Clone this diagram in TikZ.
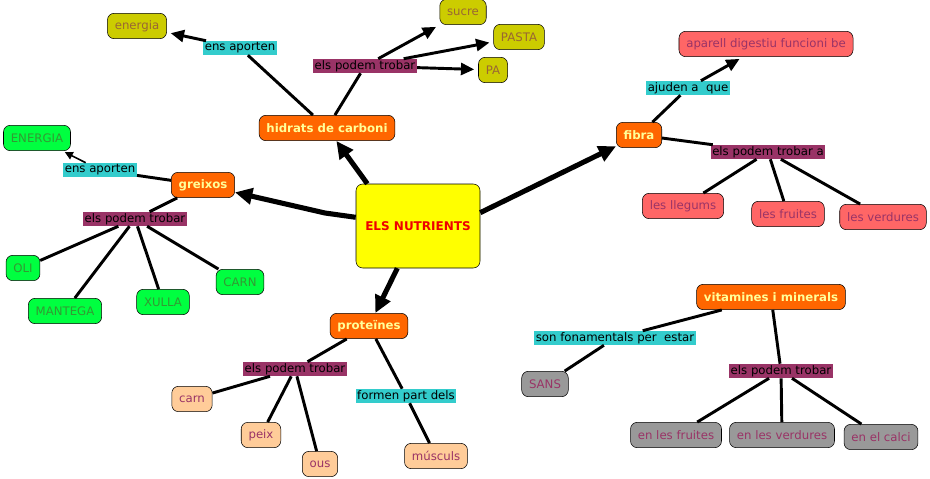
\documentclass[tikz,border=0pt]{standalone}
\usepackage{fontspec}
\setmainfont{DejaVu Sans}
\usetikzlibrary{arrows.meta}
\definecolor{mapyellow}{HTML}{FFFF00}
\definecolor{maporange}{HTML}{FF6600}
\definecolor{mapolive}{HTML}{CCCC00}
\definecolor{mapcyan}{HTML}{33CCCC}
\definecolor{mapplum}{HTML}{993366}
\definecolor{mappink}{HTML}{FF6666}
\definecolor{mapgreen}{HTML}{00FF40}
\definecolor{mappeach}{HTML}{FFCC99}
\definecolor{mapgrey}{HTML}{999999}
\definecolor{txtbrown}{HTML}{996633}
\definecolor{txtgreen}{HTML}{339933}
\definecolor{txtcream}{HTML}{FFFF99}
\definecolor{txtred}{HTML}{EE0000}

\begin{document}
\begin{tikzpicture}[x=0.75pt, y=-0.75pt,
  concept/.style={draw, rounded corners=5pt, minimum height=19pt, inner xsep=5.5pt,
                  font=\fontsize{8.8}{10}\selectfont},
  topic/.style={concept, fill=maporange, text=txtcream, font=\fontsize{8.8}{10}\selectfont\bfseries},
  olivebox/.style={concept, fill=mapolive, text=txtbrown},
  pinkbox/.style={concept, fill=mappink, text=mapplum},
  greenbox/.style={concept, fill=mapgreen, text=txtgreen},
  peachbox/.style={concept, fill=mappeach, text=mapplum},
  greybox/.style={concept, fill=mapgrey, text=mapplum},
  lnk/.style={inner xsep=1.2pt, inner ysep=1pt, minimum height=10.5pt, font=\fontsize{8.8}{10}\selectfont},
  cyanlnk/.style={lnk, fill=mapcyan},
  plumlnk/.style={lnk, fill=mapplum},
  main/.style={line width=3.8pt, -{Triangle[length=13pt,width=12pt]}},
  arr/.style={line width=2.2pt, -{Triangle[length=10pt,width=9pt]}, shorten >=3pt},
  tinyarr/.style={line width=1.2pt, -{Triangle[length=6pt,width=6pt]}, shorten >=2pt},
  conn/.style={line width=2.2pt},
]
\useasboundingbox (0,0) rectangle (930,478);

% --- centre ---
\node[draw, rounded corners=5pt, fill=mapyellow, minimum width=93pt, minimum height=63pt,
      text=txtred, font=\fontsize{9}{10}\selectfont\bfseries] (nutri) at (418,226) {ELS NUTRIENTS};

% --- hidrats de carboni ---
\node[topic] (hidr) at (327,128) {hidrats de carboni};
\node[cyanlnk] (hens) at (240,48) {ens aporten};
\node[olivebox] (henerg) at (137,26) {energia};
\node[plumlnk] (hpod) at (365,66) {els podem trobar};
\node[olivebox] (sucre) at (463,12) {sucre};
\node[olivebox] (pasta) at (519,37) {PASTA};
\node[olivebox] (pa) at (493,70) {PA};

% --- fibra ---
\node[topic] (fibra) at (639,135) {fibra};
\node[cyanlnk] (fajud) at (688,88) {ajuden a~ que};
\node[pinkbox] (aparell) at (766,44) {aparell digestiu funcioni be};
\node[plumlnk] (fpod) at (768,152) {els podem trobar a};
\node[pinkbox] (llegums) at (683,206) {les llegums};
\node[pinkbox] (ffruit) at (788,214) {les fruites};
\node[pinkbox] (fverd) at (883,217) {les verdures};

% --- greixos ---
\node[topic] (greix) at (203,185) {greixos};
\node[cyanlnk] (gens) at (100,170) {ens aporten};
\node[greenbox] (generg) at (37,138) {ENERGIA};
\node[plumlnk] (gpod) at (135,219) {els podem trobar};
\node[greenbox] (oli) at (23,268) {OLI};
\node[greenbox] (mantega) at (65,311) {MANTEGA};
\node[greenbox] (xulla) at (163,302) {XULLA};
\node[greenbox] (gcarn) at (240,282) {CARN};

% --- proteines ---
\node[topic] (prot) at (369,326) {proteïnes};
\node[plumlnk] (ppod) at (295,369) {els podem trobar};
\node[peachbox] (pcarn) at (192,399) {carn};
\node[peachbox] (peix) at (261,435) {peix};
\node[peachbox] (ous) at (320,464) {ous};
\node[cyanlnk] (pform) at (406,396) {formen part dels};
\node[peachbox] (muscul) at (436,456) {músculs};

% --- vitamines i minerals ---
\node[topic] (vitam) at (771,297) {vitamines i minerals};
\node[cyanlnk] (vsons) at (615,338) {son fonamentals per~ estar};
\node[greybox] (sans) at (545,384) {SANS};
\node[plumlnk] (vpod) at (781,371) {els podem trobar};
\node[greybox] (vfruit) at (676,435) {en les fruites};
\node[greybox] (vverd) at (782,435) {en les verdures};
\node[greybox] (calci) at (881,437) {en el calci};

% --- main arrows ---
\coordinate (gkink) at (325,213);
\draw[main] ([xshift=-38pt]nutri.north) -- (hidr);
\draw[main] (nutri) -- (gkink) -- (greix);
\draw[main] ([yshift=10pt]nutri.east) -- (fibra);
\draw[main] (nutri) -- (prot);

% --- hidrats links ---
\draw[conn] (hidr) -- (hens);
\draw[arr] (hens) -- (henerg);
\draw[conn] (hidr) -- (hpod);
\draw[arr] (hpod) -- (sucre);
\draw[arr] (hpod) -- (pasta);
\draw[arr] (hpod) -- (pa);

% --- fibra links ---
\draw[conn] (fibra) -- (fajud);
\draw[arr] (fajud) -- (aparell);
\draw[conn] (fibra) -- (fpod);
\draw[conn] (fpod) -- (llegums);
\draw[conn] (fpod) -- (ffruit);
\draw[conn] (fpod) -- (fverd);

% --- greixos links ---
\draw[conn] (greix) -- (gens);
\draw[tinyarr] (gens) -- (generg);
\draw[conn] (greix) -- (gpod);
\draw[conn] (gpod) -- (oli);
\draw[conn] (gpod) -- (mantega);
\draw[conn] (gpod) -- (xulla);
\draw[conn] (gpod) -- (gcarn);

% --- proteines links ---
\draw[conn] (prot) -- (ppod);
\draw[conn] (ppod) -- (pcarn);
\draw[conn] (ppod) -- (peix);
\draw[conn] (ppod) -- (ous);
\draw[conn] (prot) -- (pform);
\draw[conn] (pform) -- (muscul);

% --- vitamines links ---
\draw[conn] (vitam) -- (vsons);
\draw[conn] (vsons) -- (sans);
\draw[conn] (vitam) -- (vpod);
\draw[conn] (vpod) -- (vfruit);
\draw[conn] (vpod) -- (vverd);
\draw[conn] (vpod) -- (calci);
\end{tikzpicture}
\end{document}
